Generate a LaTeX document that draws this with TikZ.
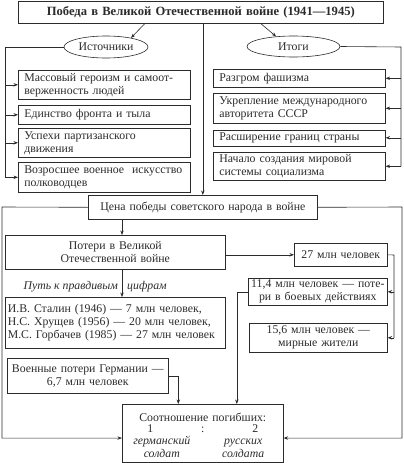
\documentclass[tikz,border=0pt]{standalone}
\usepackage{fontspec}
\setmainfont{Liberation Serif}
\usetikzlibrary{positioning,arrows.meta,shapes.geometric,calc}
\definecolor{ln}{HTML}{2B2B2B}
\newcommand\boxfont{\fontsize{11.8}{13}\selectfont}
\tikzset{
  box/.style={rectangle, draw=ln, line width=0.6pt, inner xsep=6pt, inner ysep=0pt,
              align=left, font=\boxfont, text=ln, anchor=north west},
  cbox/.style={box, align=center},
  oval/.style={ellipse, draw=ln, line width=0.6pt, inner sep=0pt, font=\boxfont, text=ln},
  note/.style={font=\boxfont\itshape, text=ln, inner sep=0pt},
  flow/.style={-{Stealth[length=4.5pt,width=3.4pt]}, line width=0.6pt, draw=ln},
  link/.style={line width=0.6pt, draw=ln}
}

\begin{document}
\begin{tikzpicture}[x=1pt, y=-1pt]
\useasboundingbox (0,0) rectangle (404,463);
\node[cbox, text width=353pt, minimum height=22pt, font=\fontsize{12.6}{14}\selectfont\bfseries] (title) at (18,1)
  {Победа в Великой Отечественной войне (1941—1945)};
\node[oval, minimum width=84pt, minimum height=22pt] (src) at (106,47) {Источники};
\node[oval, minimum width=93pt, minimum height=21pt] (res) at (293.5,46.5) {Итоги};
\node[box, text width=160pt, minimum height=29pt] (s1) at (18,70) {Массовый героизм и самоот-\\верженность людей};
\node[box, text width=160pt, minimum height=19pt] (s2) at (18,105) {Единство фронта и тыла};
\node[box, text width=160pt, minimum height=29pt] (s3) at (18,128) {Успехи партизанского\\движения};
\node[box, text width=160pt, minimum height=30pt] (s4) at (18,162) {Возросшее военное\ \ искусство\\полководцев};
\node[box, text width=160pt, minimum height=18pt] (r1) at (213,69) {Разгром фашизма};
\node[box, text width=160pt, minimum height=30pt] (r2) at (213,93) {Укрепление международного\\авторитета СССР};
\node[box, text width=160pt, minimum height=16pt] (r3) at (213,129.5) {Расширение границ страны};
\node[box, text width=160pt, minimum height=28pt] (r4) at (213,152) {Начало создания мировой\\системы социализма};
\node[cbox, text width=217pt, minimum height=24pt] (price) at (88,195) {Цена победы советского народа в войне};
\node[cbox, text width=208pt, minimum height=34pt] (loss) at (5,235) {Потери в Великой\\Отечественной войне};
\node[cbox, text width=81pt, minimum height=23pt] (m27) at (294,243) {27 млн человек};
\node[cbox, inner xsep=0pt, text width=139pt, minimum height=27pt] (b114) at (248,278) {11,4 млн человек — поте-\\ри в боевых действиях};
\node[cbox, text width=126pt, minimum height=29pt] (b156) at (249,323) {15,6 млн человек —\\мирные жители};
\node[box, inner xsep=2.5pt, text width=215pt, minimum height=51pt] (stalin) at (5,297)
  {И.В. Сталин (1946) — 7 млн человек,\\Н.С. Хрущев (1956) — 20 млн человек,\\М.С. Горбачев (1985) — 27 млн человек};
\node[cbox, inner xsep=3pt, text width=155pt, minimum height=35pt] (ger) at (7,358) {Военные потери Германии —\\6,7 млн человек};
\node[cbox, inner xsep=0pt, text width=161pt, minimum height=57.5pt, font=\fontsize{11.8}{12.6}\selectfont] (ratio) at (122,404)
  {\begin{tabular}{@{}c@{\hspace{24pt}}c@{}}
   \multicolumn{2}{c}{\rule{0pt}{16.5pt}Соотношение погибших:}\\[-2pt]
   \multicolumn{2}{c}{1\hspace{48pt}:\hspace{48pt}2}\\
   \textit{германский} & \textit{русских}\\
   \textit{солдат} & \textit{солдата}
   \end{tabular}};
\coordinate (ax) at (122,0);
\coordinate (pmid) at (122,287);
\node[note, left=4pt of pmid] (pathl) {Путь к правдивым};
\node[note, right=5pt of pmid] (pathr) {цифрам};
\coordinate (lb) at (5,47);
\coordinate (rb) at (401,47);
\coordinate (lf) at (2,207);
\coordinate (rf) at (402,207);
\coordinate (rx) at (394,255);
\draw[flow] (price.north |- title.south) -- (price.north);
\draw[flow] ([xshift=-56pt]title.south) -- (src.20);
\draw[flow] ([xshift=60pt]title.south) -- (res.150);
\draw[link] (src.west) -- (lb) -- (lb |- s4.west);
\foreach \n in {s1,s2,s3,s4} \draw[flow] (lb |- \n.west) -- (\n.west);
\draw[link] (res.east) -- (rb) -- (rb |- r4.east);
\foreach \n in {r1,r2,r3,r4} \draw[flow] (rb |- \n.east) -- (\n.east);
\draw[flow] (price.west) -- (lf) |- ([yshift=-5pt]ratio.west);
\draw[flow] (price.east) -- (rf) |- ([yshift=-5pt]ratio.east);
\draw[flow] (price.south -| ax) -- (loss.north -| ax);
\draw[flow] (loss.south -| ax) -- (stalin.north -| ax);
\draw[flow] (loss.east |- m27.west) -- (m27.west);
\draw[link] (m27.east) -- (rx) -- (rx |- b156.east);
\foreach \n in {b114,b156} \draw[flow] (rx |- \n.east) -- (\n.east);
\draw[flow] (b114.west) -| ([xshift=34pt]ratio.north);
\draw[flow] (ger.east) -| ([xshift=-24.5pt]ratio.north);
\end{tikzpicture}
\end{document}
